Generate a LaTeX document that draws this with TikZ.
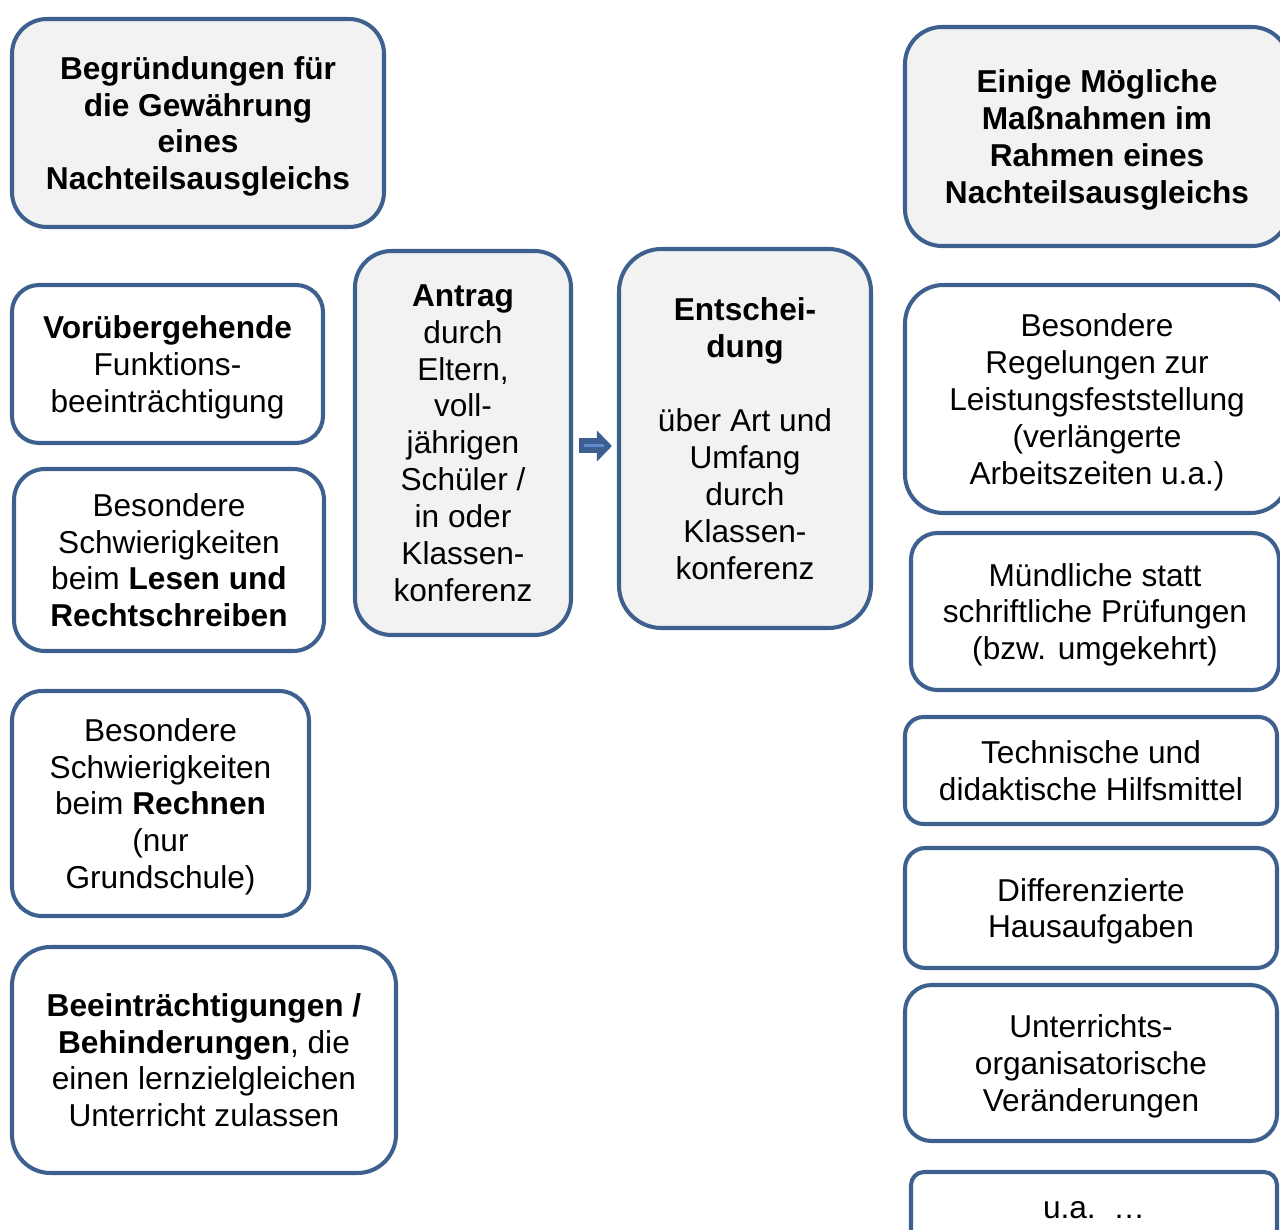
\documentclass[tikz,border=0pt]{standalone}
\usepackage{fontspec}
\setmainfont{Liberation Sans}
\usepackage{xcolor}
\usepackage{tikz}
\usetikzlibrary{arrows.meta,positioning,calc}

\definecolor{rahmen}{RGB}{62,96,142}
\definecolor{hellgrau}{RGB}{242,242,242}
\definecolor{pfeilblau}{RGB}{60,95,145}
\definecolor{streifen}{RGB}{95,140,205}

\begin{document}
\begin{tikzpicture}[
    block/.style={rectangle, draw=rahmen, line width=2.3pt, fill=white, inner sep=0pt, text depth=0pt, align=center, font=\fontsize{18}{21}\selectfont},
    grau/.style={fill=hellgrau},
    pfeil/.style={-{Triangle[width=0.6cm, length=0.3cm]}, line width=0.3cm, pfeilblau, shorten <=0.12cm, shorten >=0.1cm}
]
    \useasboundingbox (0,0) rectangle (25.6,-24.6);
    \clip (0,0) rectangle (25.6,-24.6);

    % Begruendungen (left column)
    \node[block, grau, minimum width=7.44cm, minimum height=4.16cm, rounded corners=0.7cm] (begr) at (3.96,-2.46) {\textbf{Begründungen für}\\\textbf{die Gewährung}\\\textbf{eines}\\\textbf{Nachteilsausgleichs}};
    \node[block, minimum width=6.22cm, minimum height=3.16cm, rounded corners=0.54cm] (vorueb) at (3.35,-7.28) {\textbf{Vorübergehende}\\Funktions-\\beeinträchtigung};
    \node[block, minimum width=6.2cm, minimum height=3.64cm, rounded corners=0.62cm] (lesen) at (3.38,-11.2) {Besondere\\Schwierigkeiten\\beim \textbf{Lesen und}\\\textbf{Rechtschreiben}};
    \node[block, minimum width=5.94cm, minimum height=4.5cm, rounded corners=0.6cm] (rechnen) at (3.21,-16.07) {Besondere\\Schwierigkeiten\\beim \textbf{Rechnen}\\(nur\\Grundschule)};
    \node[block, minimum width=7.68cm, minimum height=4.52cm, rounded corners=0.77cm] (behind) at (4.08,-21.2) {\textbf{Beeinträchtigungen /}\\\textbf{Behinderungen}, die\\einen lernzielgleichen\\Unterricht zulassen};

    % Antrag und Entscheidung
    \node[block, grau, minimum width=4.32cm, minimum height=7.68cm, rounded corners=0.73cm] (antrag) at (9.26,-8.86) {\textbf{Antrag}\\durch\\Eltern,\\voll-\\jährigen\\Schüler /\\in oder\\Klassen-\\konferenz};
    \node[block, grau, minimum width=5.04cm, minimum height=7.58cm, rounded corners=0.85cm] (entsch) at (14.9,-8.77) {\textbf{Entschei-}\\\textbf{dung}\\[21pt]über Art und\\Umfang\\durch\\Klassen-\\konferenz};

    % Massnahmen (right column)
    \node[block, grau, minimum width=7.68cm, minimum height=4.38cm, rounded corners=0.74cm] (einige) at (21.94,-2.73) {\textbf{Einige Mögliche}\\\textbf{Maßnahmen im}\\\textbf{Rahmen eines}\\\textbf{Nachteilsausgleichs}};
    \node[block, minimum width=7.68cm, minimum height=4.56cm, rounded corners=0.77cm] (regel) at (21.94,-7.98) {Besondere\\Regelungen zur\\Leistungsfeststellung\\(verlängerte\\Arbeitszeiten u.a.)};
    \node[block, minimum width=7.36cm, minimum height=3.14cm, rounded corners=0.53cm] (muendl) at (21.9,-12.23) {Mündliche statt\\schriftliche Prüfungen\\(bzw. umgekehrt)};
    \node[block, minimum width=7.44cm, minimum height=2.14cm, rounded corners=0.37cm] (technik) at (21.82,-15.41) {Technische und\\didaktische Hilfsmittel};
    \node[block, minimum width=7.44cm, minimum height=2.4cm, rounded corners=0.41cm] (haus) at (21.82,-18.16) {Differenzierte\\Hausaufgaben};
    \node[block, minimum width=7.44cm, minimum height=3.12cm, rounded corners=0.53cm] (unterr) at (21.82,-21.26) {Unterrichts-\\organisatorische\\Veränderungen};
    \node[block, minimum width=7.32cm, minimum height=1.52cm, rounded corners=0.26cm] (ua) at (21.88,-24.2) {u.a.\ \ …};

    % Pfeil
    \draw[pfeil] ([yshift=-0.06cm]antrag.east) -- ([yshift=-0.06cm]antrag.east -| entsch.west);
    \draw[streifen, line width=0.06cm, shorten <=0.22cm, shorten >=0.26cm] ([yshift=-0.06cm]antrag.east) -- ([yshift=-0.06cm]antrag.east -| entsch.west);

\end{tikzpicture}
\end{document}
